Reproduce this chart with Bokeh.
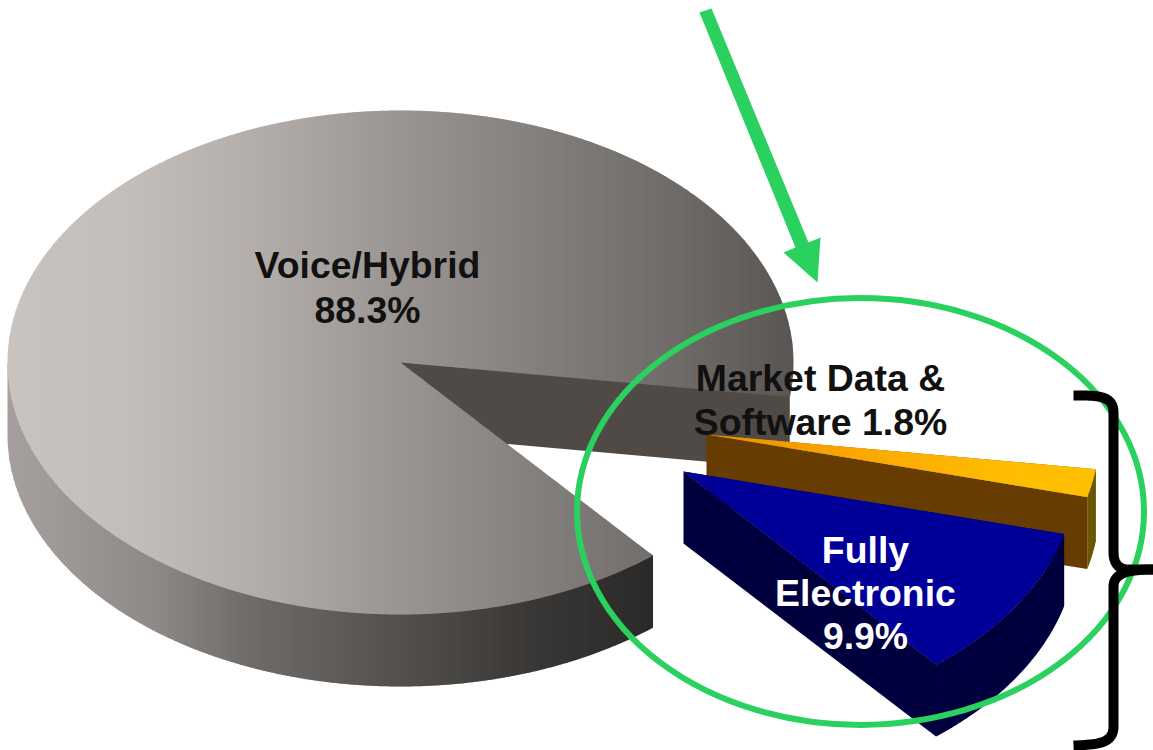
import numpy as np
from bokeh.core.properties import value
from bokeh.embed import file_html
from bokeh.models import Range1d
from bokeh.plotting import figure
from bokeh.resources import INLINE

# Revenue shares, in the order the slices run clockwise from the cut
segments = ["Market Data & Software", "Fully Electronic", "Voice/Hybrid"]
shares = [1.8, 9.9, 88.3]

label_lines = [["Market Data &", "Software 1.8%"], ["Fully", "Electronic", "9.9%"], ["Voice/Hybrid", "88.3%"]]
label_colors = ["#111111", "#ffffff", "#111111"]

# Pie projection
START_DEG = 7.9
RX, RY, DEPTH = 393.0, 252.0, 72.0
CENTER = (400.0, 362.0)
EXPLODE = [(306.0, 72.0), (283.0, 109.0), (0.0, 0.0)]
LABEL_POS = [(820.0, 377.0), (865.0, 549.0), (367.0, 264.0)]
LABEL_STEP = [44.0, 43.0, 45.0]

# Horizontal shading of the faces: (x, colour) stops
VOICE_TOP = [(8, "#c9c3c0"), (130, "#c4bebb"), (260, "#b3adaa"), (400, "#9a9592"), (560, "#807c79"), (680, "#6e6a67"), (792, "#5a5653")]
VOICE_SIDE = [(8, "#a5a09d"), (60, "#9e9996"), (150, "#8f8a87"), (250, "#6f6b68"), (400, "#53504e"), (530, "#3a3836"), (652, "#2b2a28")]
MARKET_TOP = [(706, "#e89000"), (860, "#fca800"), (1000, "#ffbb00"), (1094, "#ffc000")]
MARKET_RIM = [(1085, "#6b5500"), (1094, "#665200")]


def hex_rgb(c):
    return np.array([int(c[i:i + 2], 16) for i in (1, 3, 5)], dtype=float)


def ramp(stops, x):
    xs = [s[0] for s in stops]
    rgb = np.array([hex_rgb(s[1]) for s in stops])
    vals = [int(round(np.interp(x, xs, rgb[:, i]))) for i in range(3)]
    return "#%02x%02x%02x" % tuple(vals)


def clip_x(poly, limit, keep_right):
    """Sutherland-Hodgman clip of a polygon against one vertical line."""
    out = []
    for i in range(len(poly)):
        a, b = poly[i], poly[(i + 1) % len(poly)]
        ina = a[0] >= limit if keep_right else a[0] <= limit
        inb = b[0] >= limit if keep_right else b[0] <= limit
        if ina:
            out.append(a)
        if ina != inb:
            t = (limit - a[0]) / (b[0] - a[0])
            out.append((limit, a[1] + t * (b[1] - a[1])))
    return out


def arc(center, a0, a1, drop=0.0, n=240, scale=1.0):
    t = np.radians(np.linspace(a0, a1, n))
    return [(center[0] + scale * RX * np.cos(v), center[1] + drop + scale * RY * np.sin(v)) for v in t]


def shaded(fig, poly, stops, step=2.0):
    """Fill a polygon with a left-to-right colour ramp, as overlapping vertical bands."""
    xmin = min(p[0] for p in poly)
    xmax = max(p[0] for p in poly)
    xs, ys, colors = [], [], []
    for x0 in np.arange(xmin, xmax, step):
        band = clip_x(clip_x(poly, x0, True), x0 + step + 0.7, False)
        if len(band) < 3:
            continue
        xs.append([p[0] for p in band])
        ys.append([p[1] for p in band])
        colors.append(ramp(stops, x0 + step / 2))
    fig.patches(xs, ys, fill_color=colors, line_color=None)


def solid(fig, poly, color):
    fig.patch([p[0] for p in poly], [p[1] for p in poly], fill_color=color, line_color=None)


def sector_angles():
    spans = np.array(shares) * 3.6
    ends = START_DEG + np.cumsum(spans)
    starts = ends - spans
    return starts, ends


p = figure(width=1153, height=750, x_range=Range1d(0, 1153), y_range=Range1d(750, 0),
           output_backend="svg", toolbar_location=None, min_border=0,
           x_axis_location=None, y_axis_location=None, outline_line_color=None,
           background_fill_color="#ffffff", border_fill_color="#ffffff")
p.grid.visible = False

starts, ends = sector_angles()
centers = [(CENTER[0] + e[0], CENTER[1] + e[1]) for e in EXPLODE]

# Voice/Hybrid: inner wall, curved side, top face.
# Wall and side run a little way under the top face so no pale seam shows along shared edges.
c = centers[2]
a0, a1 = starts[2], ends[2]
wall_pt = arc(c, starts[0], starts[0], n=1)[0]
solid(p, [(c[0], c[1] - 3), (wall_pt[0], wall_pt[1] - 3), (wall_pt[0], wall_pt[1] + DEPTH), (c[0], c[1] + DEPTH)], "#4f4a46")
rim_start = arc(c, a0, a0, n=1)
side = rim_start + arc(c, a0, 180.0, scale=0.985) + [(c[0] - RX, c[1])] + arc(c, 180.0, a0, drop=DEPTH)
shaded(p, side, VOICE_SIDE)
shaded(p, [c] + arc(c, a0, a1, n=480), VOICE_TOP)

# Market Data & Software: cut wall, rim, top face
c = centers[0]
a0, a1 = starts[0], ends[0]
near = arc(c, a1, a1, n=1)[0]
solid(p, [c] + arc(c, a0, a1, n=40), "#663c00")
solid(p, [c, near, (near[0], near[1] + DEPTH), (c[0], c[1] + DEPTH)], "#663c00")
shaded(p, arc(c, a0, a1, n=40) + arc(c, a1, a0, drop=DEPTH, n=40), MARKET_RIM, step=1.0)
shaded(p, [c] + arc(c, a0, a1, n=40), MARKET_TOP)

# Fully Electronic: cut wall, rim, top face
c = centers[1]
a0, a1 = starts[1], ends[1]
near = arc(c, a1, a1, n=1)[0]
solid(p, [c] + arc(c, a0, a1, n=120), "#00003f")
solid(p, [c, near, (near[0], near[1] + DEPTH), (c[0], c[1] + DEPTH)], "#00003f")
solid(p, arc(c, a0, a1, n=120) + arc(c, a1, a0, drop=DEPTH, n=120), "#00003f")
solid(p, [c] + arc(c, a0, a1, n=120), "#000099")

# Highlight ring around the electronic slices
p.ellipse(x=[860], y=[511], width=[567], height=[427], fill_color=None,
          line_color="#2ad15e", line_width=6)

# Pointer arrow
p.patch([699, 711, 808, 820, 817, 783, 795], [12, 8, 242, 237, 282, 252, 247],
        fill_color="#2ad15e", line_color=None)

# Curly brace to the right of the ring
def bez(p0, p1, p2, p3, n=24):
    t = np.linspace(0, 1, n)[:, None]
    a, b, c_, d = map(np.array, (p0, p1, p2, p3))
    return (1 - t) ** 3 * a + 3 * (1 - t) ** 2 * t * b + 3 * (1 - t) * t ** 2 * c_ + t ** 3 * d


brace = np.vstack([
    bez((1073, 395), (1095, 395), (1113, 394), (1113, 412)),
    bez((1113, 412), (1113, 450), (1113, 510), (1113, 552)),
    bez((1113, 552), (1113, 562), (1118, 569), (1127, 569)),
])
brace_low = np.vstack([
    bez((1153, 569), (1135, 569), (1113, 570), (1113, 586)),
    bez((1113, 586), (1113, 640), (1113, 680), (1113, 726)),
    bez((1113, 726), (1113, 744), (1095, 744), (1073, 745)),
])
p.line(brace[:, 0], brace[:, 1], line_color="#000000", line_width=10, line_join="round")
p.line(brace_low[:, 0], brace_low[:, 1], line_color="#000000", line_width=10, line_join="round")
p.segment([1127], [569], [1153], [569], line_color="#000000", line_width=10)

# Slice labels
for lines, color, pos, step in zip(label_lines, label_colors, LABEL_POS, LABEL_STEP):
    p.text(x=[pos[0]] * len(lines), y=[pos[1] + i * step for i in range(len(lines))], text=lines,
           text_color=color, text_font=value("Liberation Sans"), text_font_style="bold",
           text_font_size="37.4px", text_align="center", text_baseline="alphabetic")

open("out.html", "w").write(file_html(p, INLINE))
